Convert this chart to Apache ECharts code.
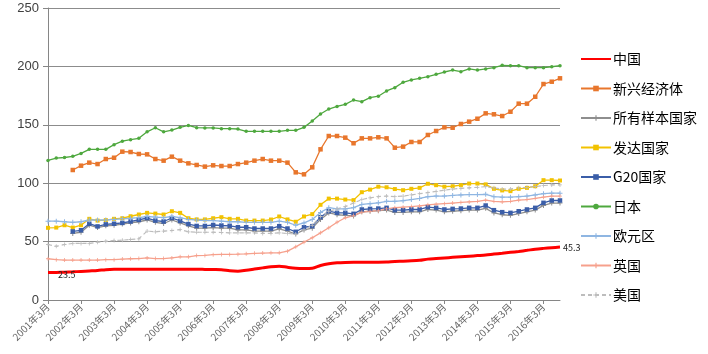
<!DOCTYPE html>
<html><head><meta charset="utf-8">
<script src="https://cdn.jsdelivr.net/npm/echarts@6/dist/echarts.min.js"></script>
<style>html,body{margin:0;padding:0;background:#fff}#c{width:708px;height:354px}</style>
</head><body><div id="c"></div>
<script>
const years = [2001,2002,2003,2004,2005,2006,2007,2008,2009,2010,2011,2012,2013,2014,2015,2016];
const months = ['3月','6月','9月','12月'];
const categories = [];
years.forEach(y => months.forEach(m => { if (categories.length < 63) categories.push(y + '年' + m); }));

const seriesNames = ['中国','新兴经济体','所有样本国家','发达国家','G20国家','日本','欧元区','英国','美国'];

const china = [23.5,23.6,23.8,24.1,24.5,24.9,25.3,26,26.3,26.3, 26.3,26.3,26.3,26.3,26.3,26.3,26.3,26.3,26.3,26.2, 26.1,26,25,24.7,25.5,26.5,27.5,28.5,29,28, 27.2,27,27.2,29.5,31,31.8,32.2,32.4,32.4,32.4, 32.4,32.5,33,33.2,33.5,34,35,35.5,36,36.5, 37,37.5,38,38.5,39.3,40,40.8,41.6,42.5,43.5, 44.2,44.8,45.3];
const emerging = [null,null,null,111.3,115,117.6,116.4,120.7,121.8,127, 126.7,125,124.7,120.7,119.3,122.7,119.3,117,115.6,114.2, 115.3,114.7,114.7,116.4,117.6,119.3,120.7,119.3,119.3,117.6, 109.3,107.6,113.6,129,140.4,140.4,139,134.2,138.4,138.4, 139.3,138.4,130.4,131.3,135.3,135.3,141.3,144.7,147.8,147.5, 150.7,152.7,155.2,159.8,159,157.5,161.2,168.1,168.1,174, 184.9,186.9,189.8];
const allSample = [null,null,null,57,58,64,62,63.5,64,65, 66,67,68.5,66.5,65.5,68.5,66,63.5,61.5,61.5, 62,61.5,61.5,60,60,59,59,59,61,59, 56.5,60,61.5,69,74.5,73,72.5,72,75.5,76, 76.5,77,75,75,75.5,75.5,77.5,77,75.5,76, 76.5,77,77,78.5,74.5,73,72.5,74,75.5,77, 81,83,83];
const developed = [61.8,62,64,62,64,69.5,68,68.4,69.5,70, 71.7,73.2,74.6,74,73.2,76,74.6,70,69,69, 70,70.9,69.5,69.5,68,68,68,68.9,71.5,69, 67,71.5,73.5,81.5,86.8,86.8,86,85.5,92.3,94.5, 97,96.5,95,94,95.2,96,99.5,98.3,97,97.4, 98.3,99.7,99.7,99,95.2,93.8,93.2,95.2,96,97.4, 102.6,102.6,102.3];
const g20 = [null,null,null,58.7,59.7,65.3,63,64.8,65.3,66, 67.2,68.6,70.2,68,67.2,70.2,67.7,65,63.4,63.4, 64.2,63.8,63.5,62.3,62.3,61.2,61.2,61.2,63.2,61.2, 58.4,62.3,63.2,70.9,76,74.6,74.6,73.8,77.5,78, 78.3,78.9,76.9,76.9,77.5,77.5,79.5,78.9,77.5,78, 78.3,78.9,78.9,80.9,76.9,75.2,74.6,76,77.5,78.9, 83.2,85.2,85.2];
const japan = [119.5,121.5,122,123,125.5,129,129,129,133,136, 137.3,138.4,144,147.5,144,145.5,147.8,149.5,147.5,147.3, 147.3,146.7,146.7,146.4,144.4,144.4,144.4,144.4,144.4,145.3, 145.3,147.8,153.3,159.2,163.5,165.7,167.5,171.2,169.8,173.2, 174.5,179,181.8,186.4,188.4,189.8,191.2,193.2,195.2,196.9, 195.5,197.8,196.9,197.8,198.9,200.9,200.6,200.6,198.9,198.9, 198.9,199.7,200.6];
const euro = [67.5,67.5,67,66.5,67,68.5,68.5,68.5,69,69.5, 70,70.5,71.5,71,70.5,71.5,70.5,69,68.5,68, 68,67.5,67,67,66.5,66.5,66.5,66.5,67.5,66.5, 64,66,69,75,79,78,78,79,81.8,82.5, 83.2,84.5,84.5,85,86,87,88.5,89,89,89.5, 90,90.3,90.3,90.5,88.5,88,88,88.5,89,90, 91,91.5,91.5];
const uk = [35.3,34.5,34.2,34.2,34.2,34.2,34.2,34.5,34.5,35, 35.3,35.5,36,35.5,35.5,36,37,37,38,38.2, 38.8,39,39,39.2,39.5,40,40.2,40.4,40.4,41.8, 45.5,49.5,53.3,57.5,61.8,66.6,70.4,72.3,75.2,76, 76.5,78,79,79.5,80,80.5,81.5,82,82.5,83, 83.5,84,84.5,85.5,84.5,84,84.5,85.5,86,87, 88,89,89];
const us = [47.5,46,47.5,48.4,48.4,48.4,49.5,50.3,51,51.2, 51.8,52.4,59,58.4,59,59.5,60.3,58.4,58,58, 58,57.8,57.5,57.5,57.5,57.5,57,57,57.5,57, 56.5,60,64,71.5,76,78,80,83,86,87.5, 88.5,89,88.5,89,90,91,92,93,94,95, 95.5,96,96.5,97,96,95,95,96,96.5,97, 98,98.5,98.5];

const yTicks = [0, 50, 100, 150, 200, 250];

const cross = 'path://M4,0H6V4H10V6H6V10H4V6H0V4H4Z';
const FONT = '"Noto Sans CJK SC","Noto Sans",sans-serif';

function lineSeries(name, data, color, opts) {
  return Object.assign({
    name: name, type: 'line', data: data, color: color,
    symbol: 'rect', symbolSize: 4, showSymbol: true,
    lineStyle: { width: 1.3, color: color },
    itemStyle: { color: color },
    connectNulls: false, animation: false
  }, opts || {});
}

const chinaData = china.map((v, i) => {
  if (i === 0) return { value: v, label: { show: true, position: 'right', offset: [4, 2] } };
  if (i === china.length - 1) return { value: v, label: { show: true, position: 'right', distance: 2 } };
  return v;
});

const option = {
  backgroundColor: '#ffffff',
  textStyle: { fontFamily: FONT },
  grid: { left: 48, right: 148, top: 8, bottom: 54, containLabel: false },
  legend: {
    orient: 'vertical', left: 575, top: 47, itemWidth: 30, itemHeight: 7, itemGap: 15.5,
    textStyle: { fontSize: 14, color: '#000', fontFamily: FONT, padding: [0, 0, 0, -3] },
    data: seriesNames
  },
  xAxis: {
    type: 'category', data: categories, boundaryGap: false,
    axisLine: { show: true, lineStyle: { color: '#868686', width: 1 } },
    axisTick: { show: true, interval: 3, length: 4, lineStyle: { color: '#868686' } },
    axisLabel: { interval: 3, rotate: 45, fontSize: 10, color: '#666666', margin: 5, fontFamily: FONT },
    splitLine: { show: false }
  },
  yAxis: {
    type: 'value', min: yTicks[0], max: yTicks[yTicks.length - 1], interval: 50,
    axisLine: { show: true, lineStyle: { color: '#868686', width: 1 } },
    axisTick: { show: true, length: 5, lineStyle: { color: '#868686' } },
    axisLabel: { fontSize: 13, color: '#404040', margin: 9, fontFamily: '"Liberation Sans",Arial,sans-serif' },
    splitLine: { show: true, lineStyle: { color: '#8c8c8c', width: 1 } }
  },
  series: [
    lineSeries('中国', chinaData, '#ff0000', {
      symbol: 'circle', symbolSize: 2, itemStyle: { color: 'rgba(255,0,0,0)' },
      lineStyle: { width: 3, color: '#ff0000' }, smooth: 0.3, z: 10,
      label: { show: false, fontSize: 9, color: '#222', formatter: p => p.value.toFixed(1) }
    }),
    lineSeries('新兴经济体', emerging, '#e8762c', { symbol: 'rect', symbolSize: 4.5 }),
    lineSeries('所有样本国家', allSample, '#8e8e8e', { symbol: cross, symbolSize: 5 }),
    lineSeries('发达国家', developed, '#f2c200', { symbol: 'rect', symbolSize: 4 }),
    lineSeries('G20国家', g20, '#3b5ea8', { symbol: 'rect', symbolSize: 4.5 }),
    lineSeries('日本', japan, '#4ea83e', { symbol: 'circle', symbolSize: 3.5 }),
    lineSeries('欧元区', euro, '#8fb6e2', { symbol: cross, symbolSize: 5 }),
    lineSeries('英国', uk, '#f6a08c', { symbol: cross, symbolSize: 4 }),
    lineSeries('美国', us, '#bdbdbd', { symbol: cross, symbolSize: 4, lineStyle: { width: 1.2, color: '#bdbdbd', type: [4, 3] } })
  ]
};

const chart = echarts.init(document.getElementById('c'), null, { renderer: 'canvas' });
chart.setOption(option);
</script>
</body></html>
